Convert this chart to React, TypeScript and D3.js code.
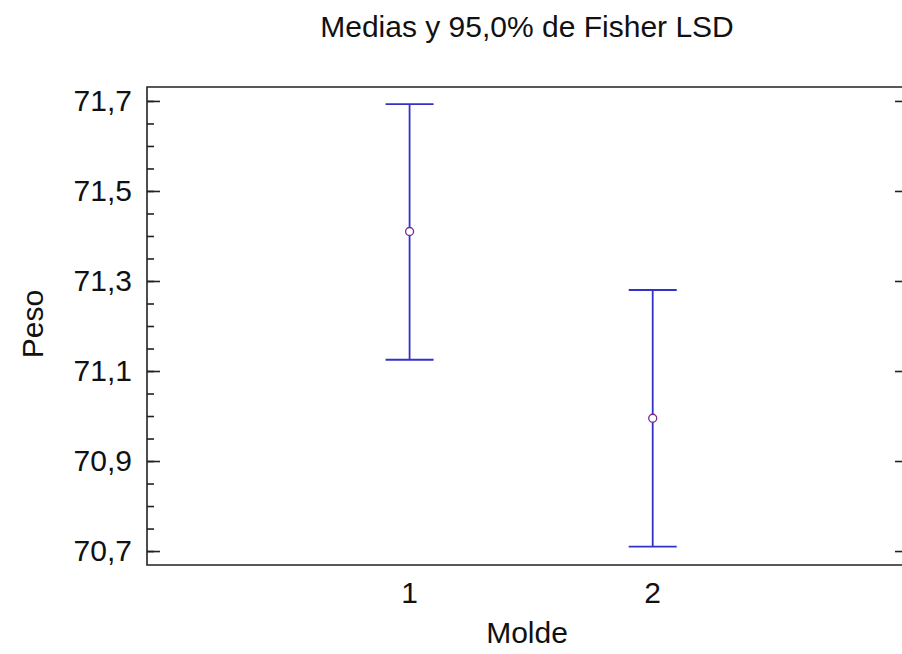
import React from "react";
import { select, scaleLinear, axisLeft, axisRight, range, path as d3path } from "d3";

// Fisher LSD intervals per mould
const categories = [1, 2];
const means = [71.41, 70.995];
const lower = [71.125, 70.71];
const upper = [71.693, 71.28];
const yTicks = [70.7, 70.9, 71.1, 71.3, 71.5, 71.7];
const yMinorTicks = range(70.7, 71.75, 0.05);

const title = "Medias y 95,0% de Fisher LSD";
const xLabel = "Molde";
const yLabel = "Peso";

const W = 902;
const H = 654;
const FONT = "'Liberation Sans', Arial, sans-serif";

function App() {
  const svgRef = React.useRef<SVGSVGElement>(null);

  React.useEffect(() => {
    document.documentElement.style.overflow = "hidden";
    document.body.style.margin = "0";
    document.body.style.overflow = "hidden";

    const svg = select(svgRef.current);
    svg.selectAll("*").remove();

    const left = 147;
    const right = 908;
    const top = 87;
    const bottom = 565;

    const xScale = scaleLinear().domain([-0.08, 3.05]).range([left, right]);
    const yScale = scaleLinear().domain([70.669, 71.731]).range([bottom, top]);

    const fmt = (d: number) => d.toFixed(1).replace(".", ",");

    // frame: top, left and bottom sides (right side is off the picture)
    const p = d3path();
    p.moveTo(W + 20, top);
    p.lineTo(left, top);
    p.lineTo(left, bottom);
    p.lineTo(W + 20, bottom);
    svg
      .append("path")
      .attr("d", p.toString())
      .attr("fill", "none")
      .attr("stroke", "#222")
      .attr("stroke-width", 1.6);

    // left axis: minor + major ticks, inward
    const minorAxis = axisLeft(yScale).tickValues(yMinorTicks).tickSize(-7).tickFormat(() => "");
    svg.append("g").attr("transform", `translate(${left},0)`).call(minorAxis);

    const yAxis = axisLeft(yScale)
      .tickValues(yTicks)
      .tickSize(-13)
      .tickPadding(15)
      .tickFormat((d) => fmt(+d));
    svg.append("g").attr("class", "y-axis").attr("transform", `translate(${left},0)`).call(yAxis);

    const rAxis = axisRight(yScale).tickValues(yTicks).tickSize(-13).tickFormat(() => "");
    svg.append("g").attr("transform", `translate(${right},0)`).call(rAxis);

    svg.selectAll(".domain").remove();
    svg.selectAll(".tick line").attr("stroke", "#222").attr("stroke-width", 1.6);
    svg
      .selectAll(".y-axis text")
      .attr("font-family", FONT)
      .attr("font-size", 30)
      .attr("fill", "#111");

    // x tick labels
    svg
      .selectAll(".xlab")
      .data(categories)
      .join("text")
      .attr("class", "xlab")
      .attr("x", (d) => xScale(d))
      .attr("y", 603)
      .attr("text-anchor", "middle")
      .attr("font-family", FONT)
      .attr("font-size", 30)
      .attr("fill", "#111")
      .text((d) => String(d));

    // error bars
    const blue = "#3232c8";
    const cap = 24;
    const bars = svg
      .selectAll(".bar")
      .data(categories)
      .join("g")
      .attr("class", "bar");
    bars
      .append("line")
      .attr("x1", (d) => xScale(d))
      .attr("x2", (d) => xScale(d))
      .attr("y1", (_, i) => yScale(upper[i]))
      .attr("y2", (_, i) => yScale(lower[i]))
      .attr("stroke", blue)
      .attr("stroke-width", 1.8);
    bars
      .append("line")
      .attr("x1", (d) => xScale(d) - cap)
      .attr("x2", (d) => xScale(d) + cap)
      .attr("y1", (_, i) => yScale(upper[i]))
      .attr("y2", (_, i) => yScale(upper[i]))
      .attr("stroke", blue)
      .attr("stroke-width", 1.8);
    bars
      .append("line")
      .attr("x1", (d) => xScale(d) - cap)
      .attr("x2", (d) => xScale(d) + cap)
      .attr("y1", (_, i) => yScale(lower[i]))
      .attr("y2", (_, i) => yScale(lower[i]))
      .attr("stroke", blue)
      .attr("stroke-width", 1.8);
    bars
      .append("circle")
      .attr("cx", (d) => xScale(d))
      .attr("cy", (_, i) => yScale(means[i]))
      .attr("r", 4)
      .attr("fill", "white")
      .attr("stroke", "#7a2a8a")
      .attr("stroke-width", 1.3);

    // titles
    svg
      .append("text")
      .attr("x", 527)
      .attr("y", 37)
      .attr("text-anchor", "middle")
      .attr("font-family", FONT)
      .attr("font-size", 30)
      .attr("fill", "#111")
      .text(title);
    svg
      .append("text")
      .attr("x", 527)
      .attr("y", 643)
      .attr("text-anchor", "middle")
      .attr("font-family", FONT)
      .attr("font-size", 30)
      .attr("fill", "#111")
      .text(xLabel);
    svg
      .append("text")
      .attr("transform", `translate(43,324) rotate(-90)`)
      .attr("text-anchor", "middle")
      .attr("font-family", FONT)
      .attr("font-size", 30)
      .attr("fill", "#111")
      .text(yLabel);
  }, []);

  return (
    <svg
      ref={svgRef}
      width={W}
      height={H}
      style={{ position: "fixed", left: 0, top: 0, background: "white", display: "block" }}
    />
  );
}

export default App;
